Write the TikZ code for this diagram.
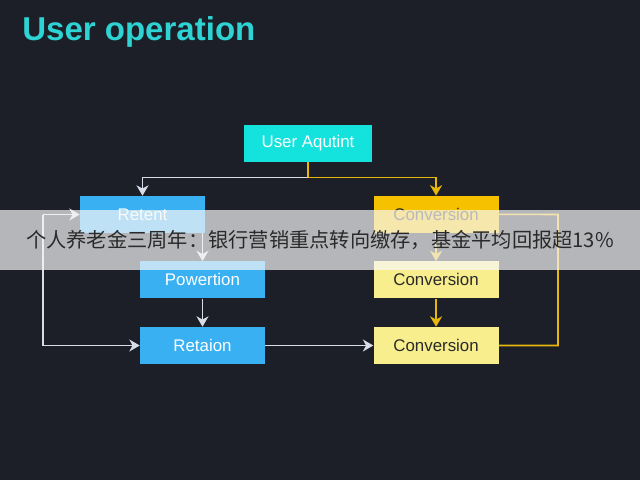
\documentclass[tikz,border=0pt]{standalone}
\usepackage{fontspec}
\setmainfont{Liberation Sans}
\newfontfamily\cjkfont{Noto Sans CJK SC}
\usepackage{xcolor}
\definecolor{opbg}{HTML}{1C1F27}
\definecolor{opcyan}{HTML}{2ED3D3}
\definecolor{opuser}{HTML}{14E2DC}
\definecolor{opblue}{HTML}{38B0F2}
\definecolor{oporange}{HTML}{F6C200}
\definecolor{oplight}{HTML}{F8EE8E}
\definecolor{opwline}{HTML}{D8DCE8}
\definecolor{opyline}{HTML}{E8B70C}
\definecolor{optext}{HTML}{2A2A2A}
\usepackage{tikz}
\usetikzlibrary{positioning,arrows.meta,calc}
\tikzset{
  obox/.style ={rectangle, draw=none, minimum width=3.125cm, minimum height=0.925cm,
                inner sep=2pt, align=center, font=\fontsize{12}{14}\selectfont},
  ubox/.style ={obox, fill=opuser, text=white, minimum width=3.2cm},
  bbox/.style ={obox, fill=opblue, text=white},
  cbox/.style ={obox, fill=oporange, text=optext},
  lbox/.style ={obox, fill=oplight, text=optext},
  warr/.style ={-{Stealth[length=2.6mm,width=3mm,inset=0.8mm]}, line width=1.1pt, draw=opwline},
  yarr/.style ={-{Stealth[length=2.6mm,width=3mm,inset=0.8mm]}, line width=1.1pt, draw=opyline},
  yline/.style={line width=1.1pt, draw=opyline},
  banner/.style={rectangle, fill=white!97!black, fill opacity=0.7, text opacity=1,
                minimum width=16cm, minimum height=1.5cm, inner sep=0pt, text=optext,
                font=\cjkfont\fontsize{14.4}{16}\selectfont},
}

\begin{document}
\begin{tikzpicture}[node distance=0.7cm and 2.7cm]
  \fill[opbg] (0,0) rectangle (16,-12);
  \useasboundingbox (0,0) rectangle (16,-12);
  \node[anchor=base west, inner sep=0pt, text=opcyan,
        font=\bfseries\fontsize{23.5}{28}\selectfont] (title) at (0.55,-1.0) {User operation};

  \node[ubox] (user) at (7.7,-3.5875) {User Aqutint};
  \node[bbox] (retent) at (3.5625,-5.3625) {Retent};
  \node[bbox] (retaion) at (5.0625,-8.6375) {Retaion};
  \node[bbox, above=of retaion] (power) {Powertion};
  \node[lbox, right=of retaion] (conv3) {Conversion};
  \node[lbox, right=of power] (conv2) {Conversion};
  \node[cbox, above=of conv2] (conv1) {Conversion};

  \coordinate (split) at ([yshift=-0.375cm]user.south);
  \coordinate (loopL) at (1.075,-5.3625);
  \coordinate (loopR) at (13.95,-5.3625);

  \draw[yarr] (user.south) -- (split) -| (conv1.north);
  \draw[warr] (split) -| (retent.north);
  \draw[warr] (retent.south -| power.north) -- (power.north);
  \draw[warr] (power) -- (retaion);
  \draw[warr] (loopL) |- (retaion.west);
  \draw[warr] (loopL) -- (retent.west);
  \draw[warr] (retaion) -- (conv3);
  \draw[yarr] (conv1) -- (conv2);
  \draw[yarr] (conv2) -- (conv3);
  \draw[yline] (conv3.east) -| (loopR) -- (conv1.east);

  \node[banner] (news) at (8,-6.0) {个人养老金三周年：银行营销重点转向缴存，基金平均回报超13\%};
\end{tikzpicture}
\end{document}
